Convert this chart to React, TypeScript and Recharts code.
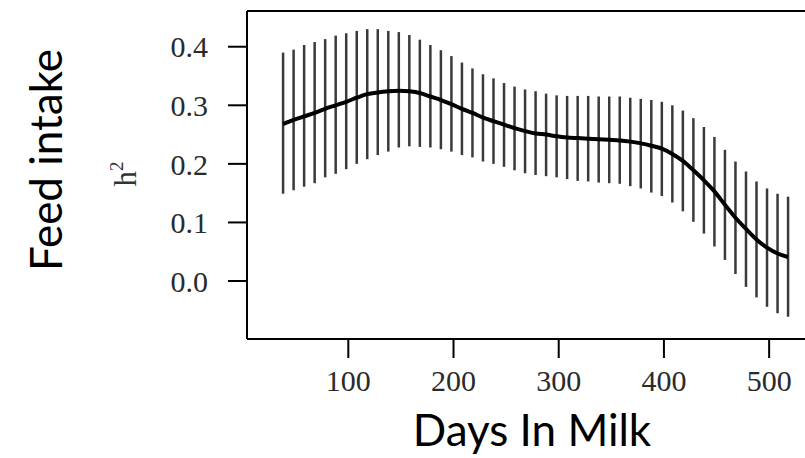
import React from "react";
import {
  ComposedChart,
  Line,
  Scatter,
  ErrorBar,
  XAxis,
  YAxis,
  ReferenceLine,
} from "recharts";

// days in milk at which the heritability was estimated
const days = [
  38, 48, 58, 68, 78, 88, 98, 108, 118, 128, 138, 148, 158, 168, 178, 188, 198,
  208, 218, 228, 238, 248, 258, 268, 278, 288, 298, 308, 318, 328, 338, 348,
  358, 368, 378, 388, 398, 408, 418, 428, 438, 448, 458, 468, 478, 488, 498,
  508, 518,
];

const h2Mean = [
  0.268, 0.275, 0.281, 0.287, 0.294, 0.3, 0.306, 0.313, 0.319, 0.322, 0.324,
  0.325, 0.324, 0.321, 0.315, 0.309, 0.302, 0.294, 0.287, 0.279, 0.273, 0.267,
  0.261, 0.256, 0.252, 0.25, 0.247, 0.245, 0.244, 0.243, 0.242, 0.241, 0.24,
  0.238, 0.235, 0.231, 0.226, 0.217, 0.205, 0.189, 0.172, 0.153, 0.13, 0.108,
  0.089, 0.071, 0.057, 0.047, 0.041,
];

const h2Upper = [
  0.39, 0.395, 0.403, 0.408, 0.413, 0.419, 0.423, 0.427, 0.43, 0.43, 0.427,
  0.425, 0.42, 0.412, 0.403, 0.394, 0.384, 0.373, 0.363, 0.353, 0.346, 0.338,
  0.332, 0.327, 0.324, 0.32, 0.317, 0.316, 0.316, 0.316, 0.315, 0.315, 0.315,
  0.313, 0.311, 0.309, 0.306, 0.3, 0.291, 0.278, 0.263, 0.246, 0.224, 0.204,
  0.187, 0.17, 0.158, 0.149, 0.144,
];

const h2Lower = [
  0.149, 0.155, 0.161, 0.167, 0.177, 0.183, 0.191, 0.2, 0.208, 0.215, 0.221,
  0.228, 0.23, 0.229, 0.228, 0.225, 0.221, 0.215, 0.211, 0.204, 0.2, 0.195,
  0.189, 0.184, 0.181, 0.179, 0.177, 0.174, 0.171, 0.17, 0.168, 0.167, 0.166,
  0.162, 0.158, 0.151, 0.145, 0.134, 0.119, 0.101, 0.081, 0.059, 0.036, 0.012,
  -0.01, -0.028, -0.044, -0.055, -0.061,
];

const xTicks = [100, 200, 300, 400, 500];
const yTicks = [0, 0.1, 0.2, 0.3, 0.4];

const Y_MIN = -0.099;
const Y_MAX = 0.461;

const rows = days.map((day, i) => ({
  day,
  mean: h2Mean[i],
  // asymmetric interval around the mean for ErrorBar
  ci: [h2Mean[i] - h2Lower[i], h2Upper[i] - h2Mean[i]],
}));

const serif = "'Liberation Serif', 'Times New Roman', serif";
const sans = "Lato, 'Open Sans', sans-serif";
const tickStyle = { fill: "#2a2a2a", fontSize: 30, fontFamily: serif };

function YTitle() {
  return (
    <g>
      <text
        x={45}
        y={160}
        transform="rotate(-90 45 160)"
        textAnchor="middle"
        dominantBaseline="central"
        fontFamily={sans}
        fontSize={44}
        fill="#000"
      >
        Feed intake
      </text>
      <text
        x={136}
        y={174}
        transform="rotate(-90 136 174)"
        textAnchor="middle"
        fontFamily={serif}
        fontSize={31}
        fill="#333"
      >
        h
        <tspan fontSize={19} dy={-13}>
          2
        </tspan>
      </text>
    </g>
  );
}

function XTitle() {
  return (
    <text
      x={532}
      y={446}
      textAnchor="middle"
      fontFamily={sans}
      fontSize={44}
      fill="#000"
    >
      Days In Milk
    </text>
  );
}

export default function App() {
  return (
    <div
      style={{
        position: "fixed",
        left: 0,
        top: 0,
        width: 805,
        height: 458,
        overflow: "hidden",
        background: "#fff",
      }}
    >
      <ComposedChart
        width={830}
        height={458}
        data={rows}
        margin={{ top: 11, right: 15, bottom: 0, left: 0 }}
      >
        <XAxis
          dataKey="day"
          type="number"
          domain={[3.7, 543.6]}
          allowDataOverflow
          ticks={xTicks}
          height={119}
          tickSize={19}
          tickMargin={12}
          tick={tickStyle}
          axisLine={{ stroke: "#000", strokeWidth: 2 }}
          tickLine={{ stroke: "#000", strokeWidth: 2 }}
          label={{ content: () => <XTitle /> }}
        />
        <YAxis
          type="number"
          domain={[Y_MIN, Y_MAX]}
          allowDataOverflow
          ticks={yTicks}
          width={247}
          tickSize={19}
          tickMargin={20}
          tick={tickStyle}
          tickFormatter={(v: number) => v.toFixed(1)}
          axisLine={{ stroke: "#000", strokeWidth: 2 }}
          tickLine={{ stroke: "#000", strokeWidth: 2 }}
          label={{ content: () => <YTitle /> }}
        />
        {/* top edge of the plot box */}
        <ReferenceLine y={Y_MAX} stroke="#000" strokeWidth={2} />
        <Scatter
          dataKey="mean"
          isAnimationActive={false}
          shape={() => <g />}
        >
          <ErrorBar
            dataKey="ci"
            direction="y"
            width={0}
            stroke="#3a3a3a"
            strokeWidth={2.5}
            isAnimationActive={false}
          />
        </Scatter>
        <Line
          dataKey="mean"
          type="monotone"
          stroke="#000"
          strokeWidth={4}
          dot={false}
          activeDot={false}
          isAnimationActive={false}
        />
      </ComposedChart>
    </div>
  );
}
